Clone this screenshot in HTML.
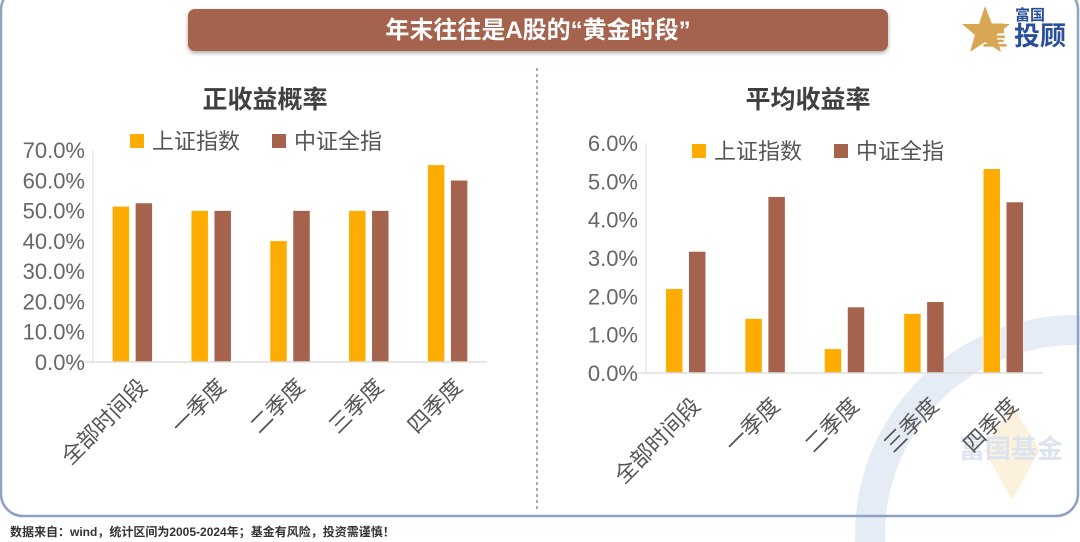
<!DOCTYPE html>
<html><head><meta charset="utf-8"><style>
html,body{margin:0;width:1080px;height:542px;overflow:hidden;background:#fff;font-family:"Liberation Sans","Noto Sans CJK SC",sans-serif;}
svg{display:block}
</style></head><body>
<svg id="s" width="1080" height="542" xmlns="http://www.w3.org/2000/svg">
<g>
<circle cx="1075" cy="535" r="205" fill="none" stroke="#e6ecf5" stroke-width="30"/>
<path d="M1012 405 L1040 450 L1012 500 L984 450Z" fill="#fbf1dc"/>
<text x="1011" y="458" font-size="26" font-weight="bold" fill="#dce4f0" text-anchor="middle">富国基金</text>
</g>
<rect x="1" y="-12" width="1077" height="528" rx="22" fill="none" stroke="#8ea2c2" stroke-width="2.5"/>
<rect x="188" y="9" width="700" height="42" rx="7" fill="#a5624c" style="filter:drop-shadow(0 2px 2px rgba(0,0,0,.35))"/>
<text x="538" y="38" font-size="24" font-weight="bold" fill="#fff" text-anchor="middle">年末往往是A股的“黄金时段”</text>
<g>
<polygon points="985,6 992,24 1010,24 996,35 1001,52 985,42 970,52 975,35 962,24 979,24" fill="#d9a653"/>
<text x="1030" y="20" font-size="15" font-weight="bold" fill="#2a4f9a" text-anchor="middle">富国</text>
<text x="1040" y="45" font-size="26" font-weight="bold" fill="#2a4f9a" text-anchor="middle">投顾</text>
<text x="995" y="45" font-size="26" font-weight="bold" fill="#d9a653" text-anchor="middle">星</text>
</g>
<line x1="537" y1="68" x2="537" y2="510" stroke="#aaa" stroke-width="2" stroke-dasharray="3,3"/>
<text x="265" y="108" font-size="25" font-weight="bold" fill="#404040" text-anchor="middle">正收益概率</text>
<text x="808" y="108" font-size="25" font-weight="bold" fill="#404040" text-anchor="middle">平均收益率</text>
<text x="10" y="536" font-size="12" font-weight="bold" fill="#333">数据来自：wind，统计区间为2005-2024年；基金有风险，投资需谨慎！</text>
</svg>
<script>
const categories=["全部时间段","一季度","二季度","三季度","四季度"];
const leftSH=[51.4,50,40,50,65.1];
const leftCSI=[52.5,50,50,50,60];
const leftTicks=["0.0%","10.0%","20.0%","30.0%","40.0%","50.0%","60.0%","70.0%"];
const rightSH=[2.2,1.42,0.63,1.55,5.33];
const rightCSI=[3.17,4.6,1.72,1.86,4.46];
const rightTicks=["0.0%","1.0%","2.0%","3.0%","4.0%","5.0%","6.0%"];
const legendNames=["上证指数","中证全指"];
const NS="http://www.w3.org/2000/svg",svg=document.getElementById('s');
const colors=["#ffac00","#a5624c"];
function mk(t,a,p){const e=document.createElementNS(NS,t);for(const k in a)e.setAttribute(k,a[k]);(p||svg).appendChild(e);return e;}
function chart(pfx,x0,x1,y0,y1,max,tickStep,ticks,s1,s2,legX,legY,labOff,labDy){
 const g=mk('g',{});
 
 
 const ys=v=>y0-(v/max)*(y0-y1);
 mk('line',{x1:x0,y1:y1,x2:x0,y2:y0,stroke:'#ddd','stroke-width':1},g);
 ticks.forEach((t,i)=>{const y=ys(i*tickStep);
  const tx=mk('text',{x:x0-8,y:y+8,'font-size':22,fill:'#666','text-anchor':'end'},g);tx.textContent=t;
  
  });
 const bw=(x1-x0)/categories.length;
 [s1,s2].forEach((s,si)=>s.forEach((v,i)=>{
  const cx=x0+bw*(i+0.5);const x=si==0?cx-20:cx+3;
  const r=mk('rect',{x:x,y:ys(v),width:17,height:y0-ys(v),fill:colors[si],stroke:'#fff','stroke-width':0.5},g);
  
  }));
 mk('line',{x1:x0-8,y1:y0,x2:x1,y2:y0,stroke:'#ddd','stroke-width':1.5},g);
 categories.forEach((c,i)=>{const cx=x0+bw*(i+0.5)+labOff;const cy=y0+labDy;
  const t=mk('text',{x:cx,y:cy,'font-size':22,fill:'#555','text-anchor':'end',transform:`rotate(-45 ${cx} ${cy})`},g);t.textContent=c;
  
  });
 legendNames.forEach((n,i)=>{const lx=legX+i*142;
  const lg=mk('g',{},g);
  
  
  mk('rect',{x:lx,y:legY-15,width:14,height:14,fill:colors[i]},lg);
  const t=mk('text',{x:lx+22,y:legY,'font-size':22,fill:'#555'},lg);t.textContent=n;});
}
chart('left',93,487,362,150,70,10,leftTicks,leftSH,leftCSI,130,149,16,26);
chart('right',646,1043,373,143,6,1,rightTicks,rightSH,rightCSI,692,159,16,34);
</script>
</body></html>
